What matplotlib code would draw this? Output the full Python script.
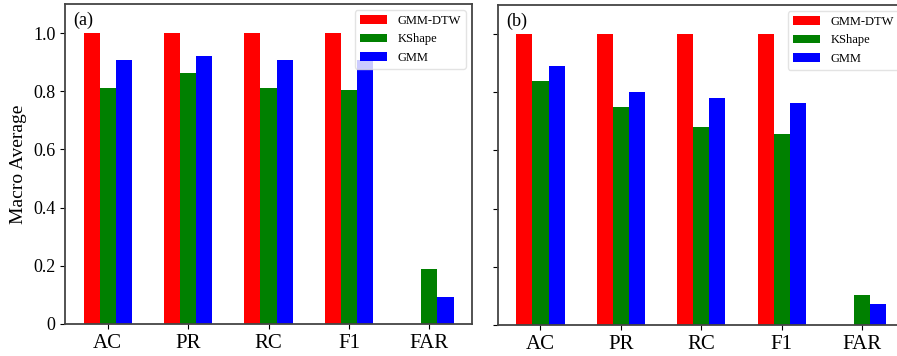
import numpy as np
import matplotlib.pyplot as plt

plt.rcParams['font.family'] = ['Liberation Serif', 'DejaVu Serif']

metrics = ['AC', 'PR', 'RC', 'F1', 'FAR']
methods = ['GMM-DTW', 'KShape', 'GMM']
colors = ['red', 'green', 'blue']

# panel (a)
a_gmm_dtw = [1.0, 1.0, 1.0, 1.0, 0.0]
a_kshape = [0.81, 0.862, 0.81, 0.803, 0.189]
a_gmm = [0.907, 0.921, 0.907, 0.907, 0.093]

# panel (b)
b_gmm_dtw = [1.0, 1.0, 1.0, 1.0, 0.0]
b_kshape = [0.84, 0.75, 0.679, 0.657, 0.104]
b_gmm = [0.889, 0.802, 0.779, 0.763, 0.072]

fig = plt.figure(figsize=(8.97, 3.56), dpi=100)
ax1 = fig.add_axes([0.0725, 0.09, 0.4537, 0.899])
ax2 = fig.add_axes([0.555, 0.087, 0.4537, 0.899])

x = np.arange(len(metrics))
w = 0.2

def draw(ax, series, tag, show_y):
    for i, (vals, name, c) in enumerate(zip(series, methods, colors)):
        ax.bar(x + (i - 1) * w, vals, w, color=c, label=name)
    ax.set_xticks(x)
    ax.set_xticklabels(metrics, fontsize=15)
    ax.set_ylim(0, 1.1)
    ax.set_yticks([0, 0.2, 0.4, 0.6, 0.8, 1.0])
    if show_y:
        ax.set_yticklabels(['0', '0.2', '0.4', '0.6', '0.8', '1.0'], fontsize=13)
        ax.set_ylabel('Macro Average', fontsize=14)
    else:
        ax.set_yticklabels([])
    for s in ax.spines.values():
        s.set_linewidth(1.3)
        s.set_color('#444444')
    ax.text(0.02, 0.975, tag, transform=ax.transAxes, fontsize=13, va='top', ha='left')
    ax.legend(loc='upper right', fontsize=9, handlelength=2.2, fancybox=True,
              framealpha=0.8, edgecolor='#dddddd')

draw(ax1, [a_gmm_dtw, a_kshape, a_gmm], '(a)', True)
draw(ax2, [b_gmm_dtw, b_kshape, b_gmm], '(b)', False)

fig.savefig('out.png', dpi=100)
